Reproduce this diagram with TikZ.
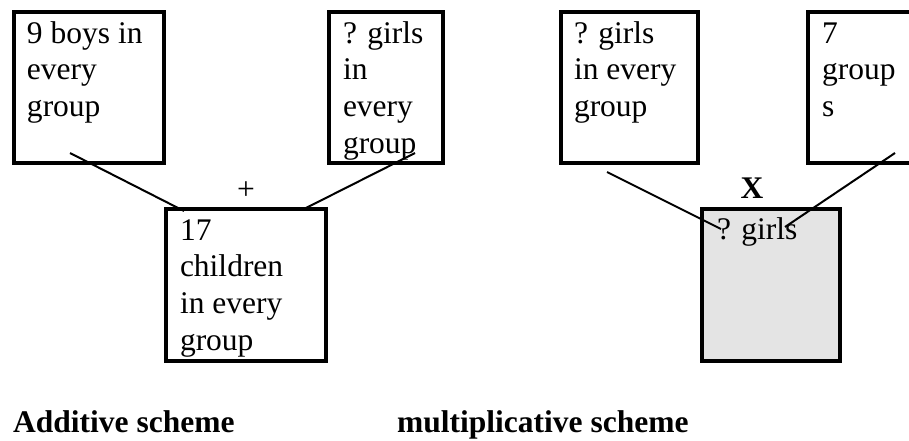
\documentclass[tikz,border=0pt]{standalone}
\usepackage{fontspec}
\setmainfont{Liberation Serif}
\begin{document}
\begin{tikzpicture}[x=1pt,y=-1pt,
  box/.style={draw=black,line width=4pt,anchor=north west,inner sep=0pt,outer sep=0pt},
  txt/.style={anchor=base west,inner sep=0pt,outer sep=0pt,font=\fontsize{31.5}{36.8}\selectfont},
  link/.style={draw=black,line width=2pt},
  captext/.style={anchor=base west,inner sep=0pt,font=\fontsize{31.5}{36.8}\selectfont\bfseries}]
\useasboundingbox (0,0) rectangle (909,440);
\definecolor{shade}{HTML}{E4E4E4}
% boxes
\node[box,minimum width=150pt,minimum height=151pt] (A) at (14,12) {};
\node[box,minimum width=114pt,minimum height=151pt] (B) at (329,12) {};
\node[box,minimum width=160pt,minimum height=152pt] (C) at (166,209) {};
\node[box,minimum width=137pt,minimum height=151pt] (D) at (561,12) {};
\node[box,minimum width=110pt,minimum height=151pt] (E) at (808,12) {};
\node[box,fill=shade,minimum width=138pt,minimum height=152pt] (F) at (702,209) {};
% texts
\node[txt] (tA) at (27,43) {\begin{tabular}[t]{@{}l@{}}9 boys in\\every\\group\end{tabular}};
\node[txt] (tB) at (343,43) {\begin{tabular}[t]{@{}l@{}}? girls\\in\\every\\group\end{tabular}};
\node[txt] (tC) at (180,240) {\begin{tabular}[t]{@{}l@{}}17\\children\\in every\\group\end{tabular}};
\node[txt] (tD) at (574,43) {\begin{tabular}[t]{@{}l@{}}? girls\\in every\\group\end{tabular}};
\node[txt] (tE) at (822,43) {\begin{tabular}[t]{@{}l@{}}7\\group\\s\end{tabular}};
\node[txt] (tF) at (717,239) {? girls};
% operators
\node[inner sep=0pt,font=\fontsize{31.5}{36.8}\selectfont] (plus) at (246,191) {+};
\node[inner sep=0pt,font=\fontsize{31.5}{36.8}\selectfont\bfseries] (times) at (752,188) {X};
% connector ends
\coordinate (a1) at (70,153);
\coordinate (a2) at (184,211);
\coordinate (b1) at (415,153);
\coordinate (b2) at (302,210);
\coordinate (d1) at (607,172);
\coordinate (d2) at (721,229);
\coordinate (e1) at (895,153);
\coordinate (e2) at (785,227);
\draw[link] (a1) -- (a2);
\draw[link] (b1) -- (b2);
\draw[link] (d1) -- (d2);
\draw[link] (e1) -- (e2);
% captions
\node[captext] (capA) at (13,432) {Additive scheme};
\node[captext] (capM) at (397,432) {multiplicative scheme};
\end{tikzpicture}
\end{document}
